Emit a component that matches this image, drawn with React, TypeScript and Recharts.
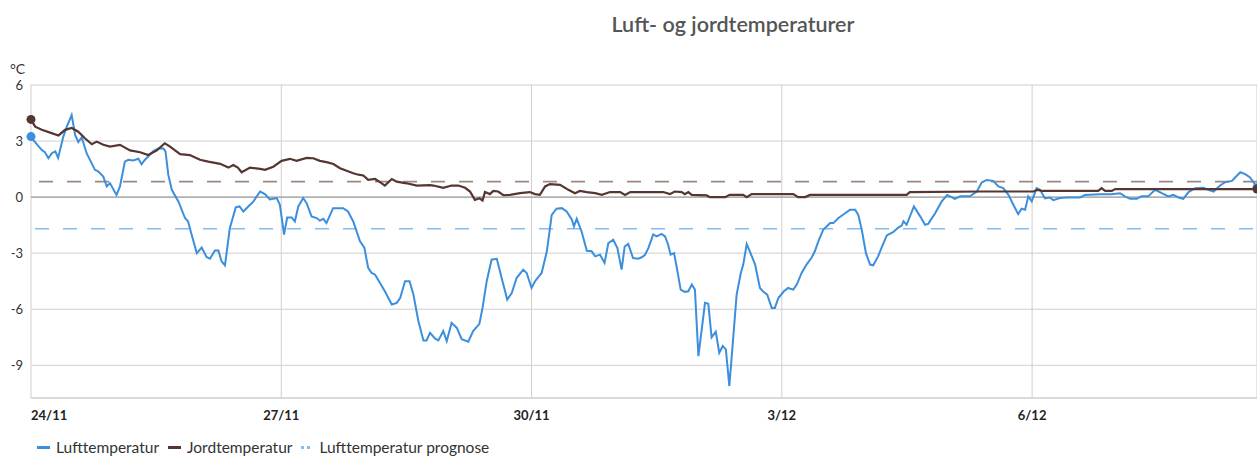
import React from "react";
import { LineChart, Line, XAxis, YAxis, CartesianGrid, ReferenceLine } from "recharts";

// hours since 24/11 00:00
const dateTicks = [0, 72, 144, 216, 288];
const dateLabels = ["24/11", "27/11", "30/11", "3/12", "6/12"];
const tempTicks = [-9, -6, -3, 0, 3, 6];

const airHours = [
  0, 0.7, 3.1, 4, 5, 6, 7, 7.8, 9.3, 10.3, 11.7, 12.7, 13.6, 14.6, 16, 18.4, 19.3, 20.8, 21.8, 22.7,
  24.6, 25.6, 27, 28, 29.4, 30.9, 31.8, 32.8, 35.2, 36.6, 38.1, 38.7, 39.5, 40.5, 42.4, 44.3, 45.2, 46.2,
  47.7, 49.1, 50.5, 51.5, 52.9, 53.9, 54.8, 55.8, 57.2, 58.9, 60, 61.1, 62.5, 64, 65.9, 67.3, 68.7, 70.7,
  71.6, 72.8, 73.7, 75, 75.9, 76.9, 78.3, 79.3, 80.7, 82.2, 83.1, 84.1, 85, 86.9, 89.8, 91.2, 92.7, 94.65,
  95.9, 97, 98, 99, 100.4, 101.8, 103.8, 105.2, 106.2, 107.6, 108.9, 110, 111.4, 112.9, 113.8, 114.8,
  116.2, 117.2, 118.6, 119.6, 121, 122.5, 123.9, 125.8, 127.2, 129, 129.9, 131.1, 132.5, 134, 135.4, 137,
  138.3, 139.7, 141.6, 142.6, 144, 145, 146.9, 148.4, 149.8, 151.2, 152.7, 154.1, 155.6, 156.2, 157,
  158.4, 159.9, 161.3, 162.3, 163.7, 165, 166.1, 167.5, 168.7, 169.9, 170.8, 171.8, 173.2, 174.7, 175.7,
  176.6, 177.6, 179, 180, 181.4, 182.4, 183.3, 184, 185, 185.8, 186.9, 188.1, 189.1, 190.1, 191, 192,
  192.9, 193.9, 194.85, 195.8, 197, 198, 199, 199.9, 200.9, 202, 203, 204.2, 204.9, 205.9, 207, 208.3,
  209.7, 210.7, 211.8, 213.1, 214, 215, 216.6, 217.8, 219.3, 220.3, 221.7, 223.1, 224.5, 225.5, 226.5,
  227.9, 229.9, 230.8, 232.3, 234.2, 235.6, 237.1, 238, 239, 240.2, 241.4, 242.3, 243.7, 244.7, 246.2,
  248, 249.5, 250.5, 251, 251.9, 254, 255.8, 257.2, 258.1, 260.1, 262, 263.6, 265.8, 267.3, 270.1, 272.1,
  273.5, 274.9, 276.8, 278.3, 279.7, 281.2, 282.6, 284, 285, 286, 286.9, 287.9, 289.3, 290.3, 291.7,
  293.1, 294.1, 296, 298, 301.8, 303.2, 307.5, 310.9, 313.3, 314.7, 316.2, 318.1, 319.5, 321.4, 323.4,
  325.3, 327.2, 328.6, 330.1, 331.5, 333, 334.9, 337.3, 338.7, 340.2, 342.1, 343.5, 345.5, 346.4, 347.9,
  349.3, 350.7, 352.2, 352.7,
];
const airTemps = [
  3.24, 3.05, 2.52, 2.4, 2.08, 2.35, 2.45, 2.1, 3.24, 3.77, 4.39, 3.33, 2.95, 3.2, 2.35, 1.46, 1.38, 1.1, 0.57, 0.75,
  0.12, 0.57, 1.9, 2.0, 1.96, 2.05, 1.76, 2.0, 2.46, 2.6, 2.6, 2.45, 1.19, 0.39, -0.23, -1.12, -1.3, -2.0,
  -3.0, -2.7, -3.2, -3.3, -2.85, -2.85, -3.43, -3.65, -1.66, -0.55, -0.5, -0.77, -0.5, -0.23, 0.3, 0.16, -0.12, -0.05,
  -0.41, -2.0, -1.09, -1.09, -1.3, -0.5, -0.05, -0.32, -1.03, -1.12, -1.26, -1.16, -1.39, -0.59, -0.59, -0.77, -1.3, -2.37,
  -2.7, -3.79, -4.06, -4.15, -4.59, -5.04, -5.75, -5.66, -5.4, -4.5, -4.5, -5.2, -6.6, -7.67, -7.67, -7.26,
  -7.56, -7.67, -7.17, -7.7, -6.73, -7.0, -7.6, -7.74, -7.17, -6.78, -5.93, -4.5, -3.35, -3.3, -4.33, -5.48,
  -5.13, -4.33, -3.88, -4.06, -4.86, -4.5, -4.06, -2.9, -0.95, -0.62, -0.59, -0.77, -1.21, -1.57, -1.16,
  -1.84, -2.87, -2.9, -3.17, -3.08, -3.52, -2.46, -2.28, -2.73, -3.88, -2.64, -2.5, -3.26, -3.3, -3.22,
  -3.1, -2.73, -2.0, -2.1, -1.97, -2.1, -2.55, -3.08, -3.0, -3.79, -4.95, -5.07, -5.04, -4.68, -4.95, -8.51,
  -7.17, -5.66, -5.71, -7.5, -7.2, -8.33, -7.97, -8.15, -10.11, -7.56, -5.22, -4.06, -3.61, -2.51, -3.0, -3.6,
  -4.86, -5.07, -5.22, -5.93, -5.93, -5.4, -5.04, -4.86, -4.95, -4.68, -4.06, -3.61, -3.26, -2.9, -2.37,
  -1.75, -1.39, -1.39, -1.12, -0.86, -0.68, -0.68, -0.95, -1.75, -3.0, -3.61, -3.65, -3.17, -2.7, -2.05,
  -1.88, -1.63, -1.52, -1.3, -1.48, -0.5, -1.03, -1.48, -1.43, -0.86, -0.23, 0.12, -0.09, 0.04, 0.04, 0.3,
  0.78, 0.92, 0.87, 0.57, 0.48, 0.12, -0.41, -0.91, -0.62, -0.68, 0.04, -0.23, 0.48, 0.39, -0.07,
  -0.02, -0.16, -0.05, -0.02, -0.02, 0.12, 0.16, 0.16, 0.21, 0.04, -0.09, -0.09, 0.04, 0.04, 0.39,
  0.21, 0.04, 0.12, -0.02, -0.09, 0.27, 0.48, 0.5, 0.39, 0.3, 0.62, 0.8, 0.87, 1.05, 1.33,
  1.23, 1.05, 0.66, 0.5,
];

const soilHours = [
  0, 1.2, 3.1, 5.5, 7.9, 9.8, 11.7, 13.6, 15.5, 17.5, 18.9, 20.8, 22.7, 25.6, 28.5, 31.4, 33.7, 36.2,
  38.5, 40, 42.9, 45.7, 48.6, 51, 54.4, 56.8, 58.2, 59.5, 60.6, 63, 65.9, 67.3, 69.7, 72.1, 74.5, 76.4,
  79.3, 81.2, 83.1, 85, 87, 88.9, 90.8, 92.7, 94.2, 95.6, 97, 99, 100.4, 101.8, 103.8, 105.2, 108.1, 111,
  114.8, 115.8, 118.6, 121, 122.9, 124.9, 126.3, 127.7, 129, 129.9, 130.6, 132, 133, 134.4, 135.9, 137.8,
  140.7, 143.5, 145, 146.4, 147.9, 149.3, 152.2, 154.6, 156.5, 157.9, 159.9, 162.3, 164.2, 166.6, 169.5,
  170.9, 172.4, 181.9, 183.8, 185.2, 187.2, 188.1, 189.1, 190.1, 194.4, 195.3, 199.7, 201, 204.9, 205.9,
  207.3, 219.3, 220.7, 222.7, 224.1, 251.9, 252.8, 273, 288.4, 289.5, 291, 307, 308, 309, 310.9, 311.9, 352.7,
];
const soilTemps = [
  4.16, 3.77, 3.6, 3.45, 3.3, 3.6, 3.7, 3.5, 3.15, 2.83, 2.97, 2.8, 2.7, 2.8, 2.5, 2.4, 2.25, 2.5,
  2.88, 2.7, 2.3, 2.25, 2.0, 1.9, 1.78, 1.58, 1.72, 1.58, 1.33, 1.58, 1.51, 1.46, 1.63, 1.94, 2.05, 1.94,
  2.1, 2.08, 1.94, 1.87, 1.77, 1.55, 1.41, 1.28, 1.2, 1.16, 0.92, 0.97, 0.8, 0.62, 0.97, 0.83, 0.74, 0.62,
  0.64, 0.62, 0.5, 0.62, 0.62, 0.5, 0.3, -0.15, -0.06, -0.18, 0.27, 0.16, 0.33, 0.3, 0.1, 0.12,
  0.21, 0.27, 0.16, 0.12, 0.57, 0.7, 0.66, 0.39, 0.21, 0.33, 0.27, 0.21, 0.12, 0.27, 0.27,
  0.12, 0.27, 0.27, 0.16, 0.3, 0.27, 0.16, 0.27, 0.12, 0.09, 0, 0, 0.12, 0.12, 0,
  0.16, 0.16, 0, 0, 0.12, 0.12, 0.27, 0.3, 0.3, 0.39, 0.33, 0.33, 0.48, 0.33, 0.33, 0.43, 0.43,
];

const airForecast = -1.69;
const soilLevel = 0.83;

const airData = airHours.map((h, i) => ({ h, v: airTemps[i] }));
const soilData = soilHours.map((h, i) => ({ h, v: soilTemps[i] }));

const FONT = "Lato, 'Open Sans', sans-serif";
const BLUE = "#3b8fdc";
const BROWN = "#553630";

const endDots = (color, count) => (props) => {
  const { cx, cy, index } = props;
  if (index !== 0 && index !== count - 1) return <g key={`d-${index}`} />;
  return <circle key={`d-${index}`} cx={cx} cy={cy} r={4.5} fill={color} stroke="none" />;
};

const DateTick = ({ x, y, index }) => (
  <text
    x={x}
    y={y + 20}
    textAnchor={index === 0 ? "start" : "middle"}
    fontFamily={FONT}
    fontSize={13}
    fontWeight={700}
    fill="#222"
  >
    {dateLabels[index]}
  </text>
);

const App = () => {
  return (
    <div style={{ position: "absolute", left: 0, top: 0, width: 1257, height: 459, background: "#fff", overflow: "hidden" }}>
      <div
        style={{
          position: "absolute",
          left: 0,
          width: 1466,
          top: 11,
          textAlign: "center",
          fontFamily: FONT,
          fontSize: 21.5,
          fontWeight: 600,
          color: "#555",
        }}
      >
        Luft- og jordtemperaturer
      </div>
      <div style={{ position: "absolute", left: 10, top: 60, fontFamily: FONT, fontSize: 14, color: "#333" }}>°C</div>

      <LineChart
        width={1257}
        height={459}
        data={airData}
        margin={{ top: 85, right: 0, bottom: 0, left: 0 }}
      >
        <CartesianGrid stroke="#cfcfcf" vertical={true} horizontal={true} />
        <XAxis
          dataKey="h"
          type="number"
          domain={[0, 352.7]}
          ticks={dateTicks}
          height={61}
          tickLine={false}
          tickSize={0}
          axisLine={{ stroke: "#cfcfcf" }}
          tick={DateTick}
          interval={0}
        />
        <YAxis
          type="number"
          domain={[-10.75, 6]}
          ticks={tempTicks}
          width={31}
          axisLine={false}
          tickLine={false}
          tickSize={0}
          tickMargin={8}
          interval={0}
          tick={{ fontFamily: FONT, fontSize: 13, fill: "#333" }}
        />
        <ReferenceLine y={0} stroke="#8f8f8f" />
        <ReferenceLine y={soilLevel} stroke="#9c8782" strokeWidth={1.8} strokeDasharray="14 14" strokeDashoffset={20} />
        <ReferenceLine y={airForecast} stroke="#86bced" strokeWidth={1.6} strokeDasharray="14 14" strokeDashoffset={24} />
        <Line
          data={airData}
          dataKey="v"
          type="linear"
          stroke={BLUE}
          strokeWidth={2}
          dot={endDots(BLUE, airData.length)}
          activeDot={false}
          isAnimationActive={false}
        />
        <Line
          data={soilData}
          dataKey="v"
          type="linear"
          stroke={BROWN}
          strokeWidth={2.2}
          dot={endDots(BROWN, soilData.length)}
          activeDot={false}
          isAnimationActive={false}
        />
      </LineChart>

      <div
        style={{
          position: "absolute",
          left: 37,
          top: 438,
          display: "flex",
          alignItems: "center",
          fontFamily: FONT,
          fontSize: 15.5,
          color: "#333",
          whiteSpace: "nowrap",
        }}
      >
        <span style={{ display: "inline-block", width: 13, height: 3, background: BLUE, marginRight: 6 }} />
        <span style={{ marginRight: 9 }}>Lufttemperatur</span>
        <span style={{ display: "inline-block", width: 13, height: 3, background: BROWN, marginRight: 6 }} />
        <span style={{ marginRight: 9 }}>Jordtemperatur</span>
        <span style={{ display: "inline-block", width: 3, height: 3, background: "#86bced", marginRight: 3 }} />
        <span style={{ display: "inline-block", width: 3, height: 3, background: "#86bced", marginRight: 9 }} />
        <span>Lufttemperatur prognose</span>
      </div>
    </div>
  );
};

export default App;
